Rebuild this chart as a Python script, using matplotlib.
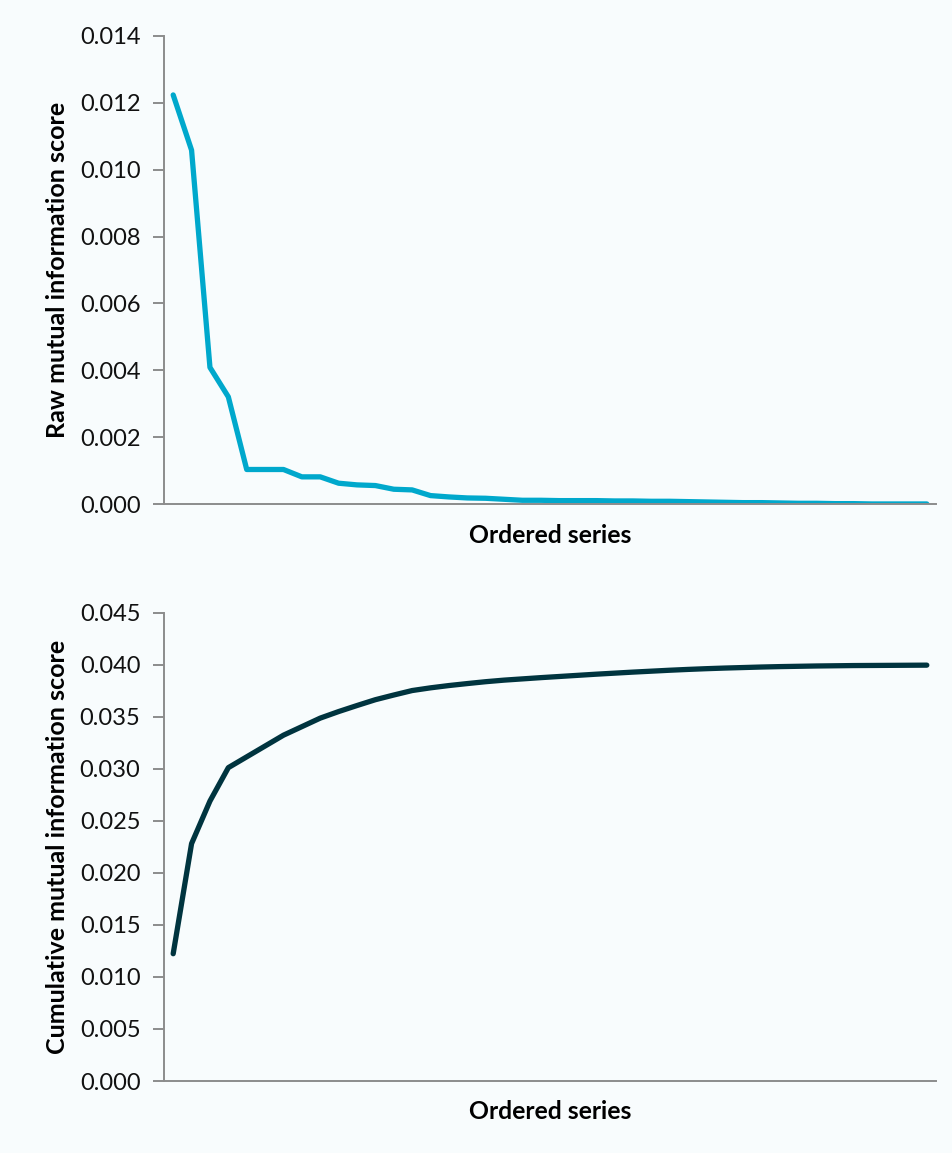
import numpy as np
import matplotlib
matplotlib.use("Agg")
import matplotlib.pyplot as plt

# Raw mutual information score for each series, in descending order
raw_scores = [
    0.01223, 0.01058, 0.00409, 0.00321, 0.00104, 0.00104, 0.00104, 0.00082,
    0.00082, 0.00063, 0.00058, 0.00056, 0.00045, 0.00043, 0.00026, 0.00022,
    0.00019, 0.00018, 0.00015, 0.00012, 0.00012, 0.00011, 0.00011, 0.00011,
    0.00010, 0.00010, 0.00009, 0.00009, 0.00008, 0.00007, 0.00006, 0.00005,
    0.00005, 0.00004, 0.00003, 0.00003, 0.00002, 0.00002, 0.00001, 0.00001,
    0.00001, 0.00001,
]
# Running total of the ordered scores
cumulative_scores = np.cumsum(raw_scores)

raw_yticks = [0.000, 0.002, 0.004, 0.006, 0.008, 0.010, 0.012, 0.014]
cum_yticks = [0.000, 0.005, 0.010, 0.015, 0.020, 0.025, 0.030, 0.035, 0.040, 0.045]

x_label = "Ordered series"
raw_ylabel = "Raw mutual information score"
cum_ylabel = "Cumulative mutual information score"

bg = "#f8fcfd"
axis_grey = "#8c8c8c"
raw_color = "#00a8cc"
cum_color = "#00343f"

plt.rcParams["font.family"] = ["Lato", "DejaVu Sans"]

fig = plt.figure(figsize=(9.53, 11.53), dpi=100, facecolor=bg)
W, H = 953, 1153


def make_axes(top_px, bottom_px):
    left_px, right_px = 164, 936
    return fig.add_axes([left_px / W, 1 - bottom_px / H,
                         (right_px - left_px) / W, (bottom_px - top_px) / H])


def style(ax, yticks, ylabel):
    ax.set_facecolor(bg)
    for side in ("top", "right"):
        ax.spines[side].set_visible(False)
    for side in ("left", "bottom"):
        ax.spines[side].set_color(axis_grey)
        ax.spines[side].set_linewidth(1.4)
    ax.set_ylim(yticks[0], yticks[-1])
    ax.set_yticks(yticks)
    ax.set_yticklabels([f"{v:.3f}" for v in yticks])
    ax.tick_params(axis="y", direction="out", length=8, width=1.4,
                   color=axis_grey, labelsize=17, pad=9, labelcolor="#111111")
    ax.set_xticks([])
    ax.set_xlim(-0.5, len(raw_scores) - 0.5)
    ax.set_xlabel(x_label, fontsize=17.8, fontweight="bold", labelpad=14)
    ax.set_ylabel(ylabel, fontsize=18, fontweight="bold", labelpad=8)


x = np.arange(len(raw_scores))

ax1 = make_axes(35.7, 504.3)
ax1.plot(x, raw_scores, color=raw_color, linewidth=3.8,
         solid_joinstyle="round", solid_capstyle="round")
style(ax1, raw_yticks, raw_ylabel)

ax2 = make_axes(612.7, 1081)
ax2.plot(x, cumulative_scores, color=cum_color, linewidth=3.8,
         solid_joinstyle="round", solid_capstyle="round")
style(ax2, cum_yticks, cum_ylabel)

fig.savefig("out.png", dpi=100, facecolor=bg)
